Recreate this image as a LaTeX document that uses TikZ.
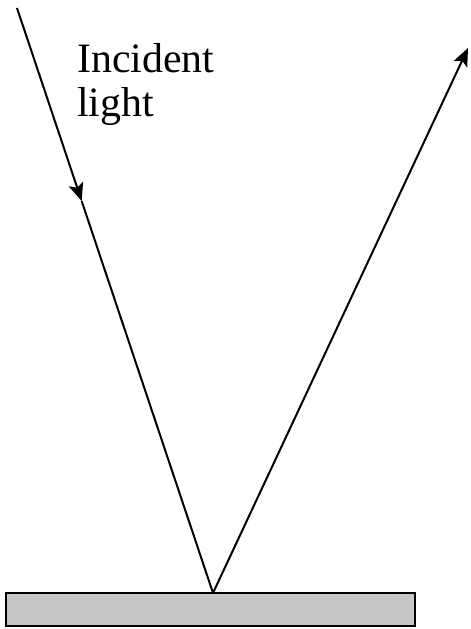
\documentclass[tikz,border=0pt]{standalone}
\usepackage{fontspec}
\setmainfont{Liberation Serif}
\usetikzlibrary{arrows.meta,positioning,calc}

\begin{document}
\begin{tikzpicture}[x=1bp, y=-1bp, every node/.style={font=\fontsize{42}{44}\selectfont},
  ray/.style={line width=2bp},
  tip/.style={-{Stealth[length=18bp,width=15bp,inset=4bp]}}]
  \useasboundingbox (0,0) rectangle (471,629);
  % mirror and rays
  \node (mirror) [draw, line width=2.2bp, fill=black!22, minimum width=409bp, minimum height=33bp, inner sep=0pt] at (210.5,609.5) {};
  \coordinate (src) at (17,8);
  \coordinate (hit) at (213,593);
  \coordinate (mid) at ($(src)!0.33!(hit)$);
  \coordinate (dst) at (468,48);
  \node (label) [align=left, anchor=north west, inner sep=0pt] at (77,43) {Incident\\light};
  \draw[ray, tip] (src) -- (mid);
  \draw[ray] (mid) -- (hit);
  \draw[ray, tip] (hit) -- (dst);
\end{tikzpicture}
\end{document}
